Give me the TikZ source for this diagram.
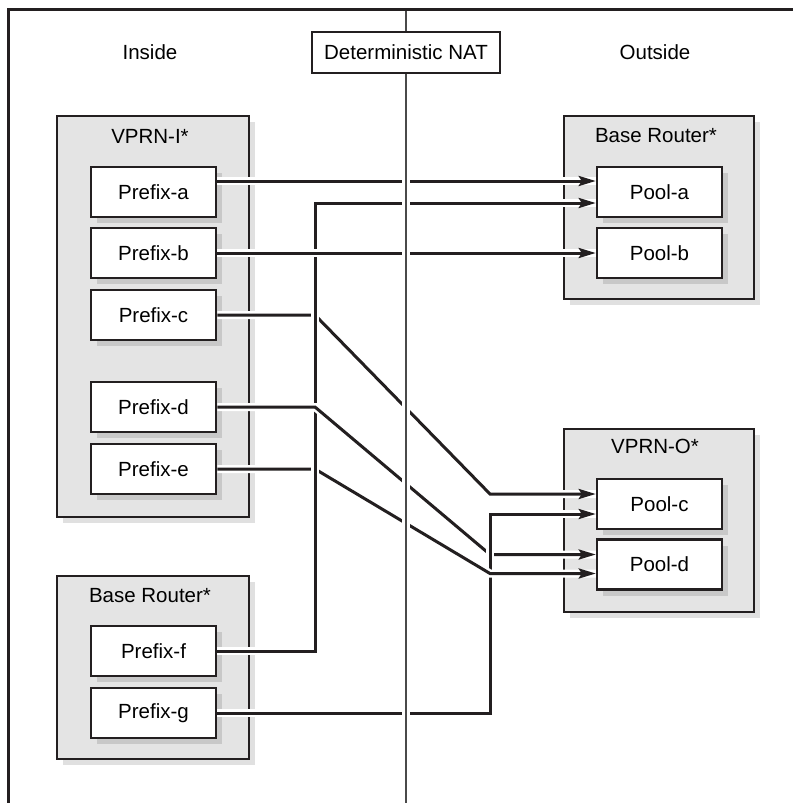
\documentclass[tikz,border=0pt]{standalone}
\usepackage{fontspec}
\setmainfont{Liberation Sans}
\usetikzlibrary{arrows.meta,shadows}
\definecolor{ink}{HTML}{231F20}
\definecolor{panel}{HTML}{E4E4E4}
\definecolor{divider}{HTML}{4A4A4A}
\begin{document}
\begin{tikzpicture}[x=1pt,y=-1pt,
  font=\fontsize{20.5}{24}\selectfont,
  boxshadow/.style={drop shadow={shadow xshift=6pt,shadow yshift=-6pt,fill=black,opacity=.12}},
  panelbox/.style={draw=ink,fill=panel,line width=2.5pt,boxshadow},
  itembox/.style={draw=ink,fill=white,line width=2.5pt,minimum width=125pt,
    minimum height=50pt,inner sep=0pt,boxshadow},
  conn/.style={draw=ink,line width=3pt,preaction={draw=white,line width=8pt,arrows=-}},
  arr/.style={conn,-{Stealth[length=17pt,width=10pt,inset=3pt]}}]
\useasboundingbox (0,0) rectangle (793,803);

% outer frame
\draw[ink,line width=3pt] (8,803) -- (8,9.5) -- (793,9.5);

% header
\node (inside) at (150,52.5) {Inside};
\node (outside) at (655,52.5) {Outside};
\node[draw=ink,fill=white,line width=2.5pt,minimum width=188pt,minimum height=41pt,
  inner sep=0pt] (nat) at (406,52.5) {Deterministic NAT};
\coordinate (divtop) at (406,11);
\coordinate (divbot) at (406,803);
\draw[divider,line width=1.5pt] (divtop) -- (nat.north);

% panels
\path[panelbox] (57,116) rectangle (249,517);
\path[panelbox] (57,576) rectangle (249,759);
\path[panelbox] (564,116) rectangle (754,299);
\path[panelbox] (564,429) rectangle (754,612);
\node (tvi) at (150,136) {VPRN-I*};
\node (tbl) at (150,596) {Base Router*};
\node (tbr) at (656,136) {Base Router*};
\node (tvo) at (655,446) {VPRN-O*};

% inside prefixes
\node[itembox] (pa) at (153.5,192) {Prefix-a};
\node[itembox] (pb) at (153.5,253) {Prefix-b};
\node[itembox] (pc) at (153.5,315) {Prefix-c};
\node[itembox] (pd) at (153.5,407) {Prefix-d};
\node[itembox] (pe) at (153.5,469) {Prefix-e};
\node[itembox] (pf) at (153.5,651) {Prefix-f};
\node[itembox] (pg) at (153.5,713) {Prefix-g};

% outside pools
\node[itembox] (qa) at (659.5,192) {Pool-a};
\node[itembox] (qb) at (659.5,253) {Pool-b};
\node[itembox] (qc) at (659.5,504) {Pool-c};
\node[itembox] (qd) at (659.5,564.5) {Pool-d};

% bend points
\coordinate (fbend) at (315,203);
\coordinate (cbend1) at (315,315);
\coordinate (cbend2) at (490,494);
\coordinate (dbend1) at (315,407);
\coordinate (dbend2) at (490,554.5);
\coordinate (ebend1) at (315,469);
\coordinate (ebend2) at (490,573.5);
\coordinate (gbend) at (490,514);
\coordinate (gpatchtop) at (490,545);
\coordinate (gpatchbot) at (490,566);

% mappings (drawn in crossing order)
\draw[arr] (pg.east) -| (gbend) -- ([yshift=-10pt]qc.west);
\draw[arr] (pc.east) -- (cbend1) -- (cbend2) -- ([yshift=10pt]qc.west);
\draw[arr] (pe.east) -- (ebend1) -- (ebend2) -- ([yshift=-9pt]qd.west);
\draw[arr] (pf.east) -| (fbend) -- ([yshift=-11pt]qa.west);
\draw[arr] (pb.east) -- (qb.west);
\draw[arr] (pd.east) -- (dbend1) -- (dbend2) -- ([yshift=10pt]qd.west);
\draw[arr] ([yshift=11pt]pa.east) -- ([yshift=11pt]qa.west);
\draw[conn] (gpatchtop) -- (gpatchbot);

% divider between inside and outside
\draw[divider,line width=1.5pt,preaction={draw=white,line width=8pt}] (nat.south) -- (divbot);
\end{tikzpicture}
\end{document}
